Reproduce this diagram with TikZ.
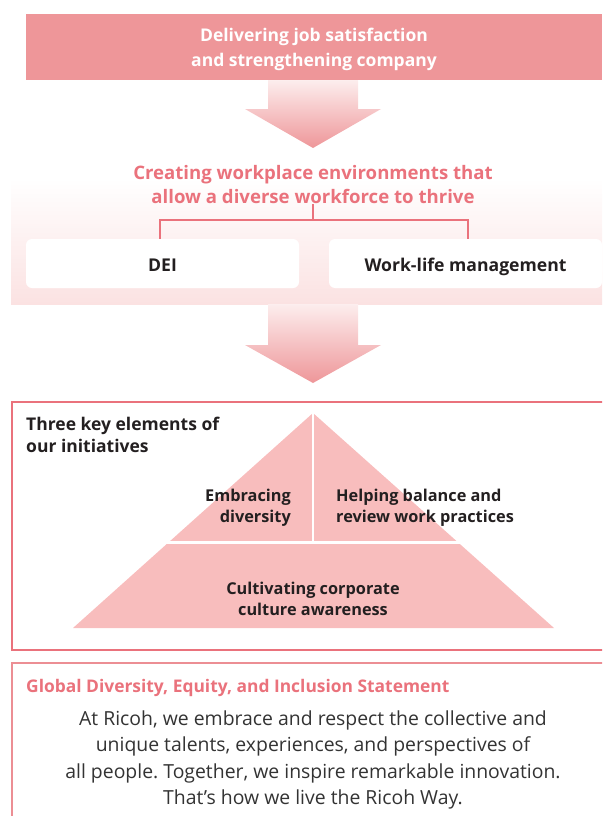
\documentclass[tikz,border=0pt]{standalone}
\usepackage{fontspec}
\setmainfont{Open Sans}
\usepackage{xcolor}
\usetikzlibrary{arrows.meta,positioning}
\frenchspacing

\definecolor{bannerpink}{RGB}{238,150,153}
\definecolor{coral}{RGB}{234,114,124}
\definecolor{bandpink}{RGB}{251,226,226}
\definecolor{pyrpink}{RGB}{248,189,189}
\definecolor{framepink}{RGB}{236,142,148}
\definecolor{darktext}{RGB}{35,31,32}
\definecolor{bodytext}{RGB}{51,51,51}

\begin{document}
\begin{tikzpicture}[x=1pt,y=-1pt,
  goaltext/.style={text=white,align=center,inner sep=0pt,font=\bfseries\fontsize{17.5}{25}\selectfont},
  headline/.style={text=coral,align=center,inner sep=0pt,font=\bfseries\fontsize{18.6}{24}\selectfont},
  whitebox/.style={fill=white,rounded corners=6pt,inner sep=0pt,minimum height=49pt,
    text height=17pt,text depth=1pt,text=darktext,font=\bfseries\fontsize{17.6}{21}\selectfont},
  bracket/.style={draw=coral,line width=2.6pt},
  blockarrow/.style={top color=bandpink!60,bottom color=bannerpink,draw=none},
  label/.style={text=darktext,inner sep=0pt,font=\bfseries\fontsize{16.3}{21}\selectfont}]
  \clip (0,0) rectangle (602,816);
  % top goal
  \fill[bannerpink] (26,14) rectangle (602,80);
  \node[goaltext] (goal) at (314,49) {Delivering job satisfaction\\and strengthening company};
  \coordinate (goalfoot) at (313,80);
  \path[blockarrow] (goalfoot) ++(-45,0) -- ++(0,29) -- ++(-23,0) -- ++(68,39)
    -- ++(68,-39) -- ++(-23,0) -- ++(0,-29) -- cycle;
  % environments band
  \shade[top color=white,bottom color=bandpink] (11,178) rectangle (602,304);
  \coordinate (bandfoot) at (313,304);
  \node[headline] (env) at (313,185) {Creating workplace environments that\\allow a diverse workforce to thrive};
  \node[whitebox,minimum width=273pt] (dei) at (162.5,263.5) {DEI};
  \node[whitebox,minimum width=273pt] (wlm) at (465.5,263.5) {Work-life management};
  \coordinate (fork) at (313,220);
  \draw[bracket] (fork |- env.south) -- (fork);
  \draw[bracket] (dei.north -| 160,0) |- (fork) -| (wlm.north -| 468,0);
  \path[blockarrow] (bandfoot) ++(-45,0) -- ++(0,41) -- ++(-23,0) -- ++(68,38)
    -- ++(68,-38) -- ++(-23,0) -- ++(0,-41) -- cycle;
  % three key elements
  \draw[draw=coral,line width=2.6pt] (12,402) rectangle (610,650);
  \node[label,anchor=west,align=left,font=\bfseries\fontsize{17.5}{22}\selectfont]
    (keys) at (26,435) {Three key elements of\\our initiatives};
  \fill[pyrpink] (313,413) -- (554,628) -- (73,628) -- cycle;
  \draw[white,line width=3pt] (150,542) -- (480,542);
  \draw[white,line width=2.4pt] (313,405) -- (313,542);
  \node[label,anchor=east,align=right] (embrace) at (291,508) {Embracing\\diversity};
  \node[label,anchor=west,align=left] (balance) at (336,508) {Helping balance and\\review work practices};
  \node[label,align=center] (culture) at (313,599) {Cultivating corporate\\culture awareness};
  % statement
  \draw[draw=framepink,line width=1.3pt] (12,663) rectangle (610,830);
  \node[anchor=west,inner sep=0pt,text=coral,font=\bfseries\fontsize{17.4}{20}\selectfont]
    (stmt) at (26,688) {Global Diversity, Equity, and Inclusion Statement};
  \node[align=center,inner sep=0pt,text=bodytext,font=\fontsize{19.4}{26.3}\selectfont]
    (body) at (313,760) {At Ricoh, we embrace and respect the collective and\\
    unique talents, experiences, and perspectives of\\
    all people. Together, we inspire remarkable innovation.\\
    That’s how we live the Ricoh Way.};
\end{tikzpicture}
\end{document}
